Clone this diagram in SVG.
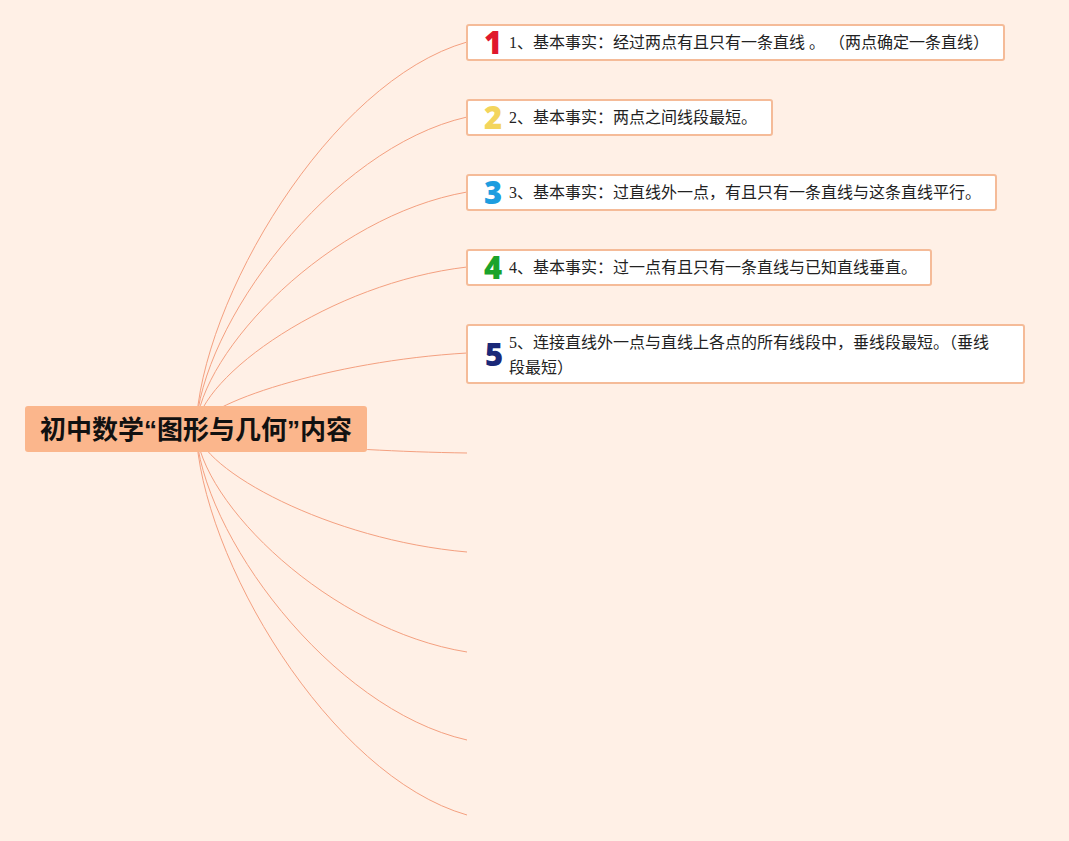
<svg xmlns="http://www.w3.org/2000/svg" width="1069" height="841" viewBox="0 0 1069 841">
<style>
.bg{fill:#fff0e6}
.link{fill:none;stroke:#f4a080;stroke-width:1}
.box{fill:#ffffff;stroke:#f5bb98;stroke-width:2}
.txt{font-family:"Liberation Serif","Noto Sans CJK SC",serif;font-size:16px;fill:#222}
.num{font-family:"Open Sans","Liberation Sans",sans-serif;font-weight:800;font-size:31px;text-anchor:middle}
.root{fill:#fbb68c}
.rtxt{font-family:"Noto Sans CJK SC",sans-serif;font-weight:bold;font-size:26px;fill:#111;text-anchor:middle}
.q{font-family:"Liberation Sans",sans-serif}
</style>
<rect class="bg" x="0" y="0" width="1069" height="841"/>
<g id="connectors">
<path class="link" d="M196 429 C200 301 330 81 467 42"/>
<path class="link" d="M196 429 C200 326 330 148 467 117"/>
<path class="link" d="M196 429 C200 351 330 216 467 192"/>
<path class="link" d="M196 429 C200 376 330 283 467 267"/>
<path class="link" d="M196 429 C200 404 330 361 467 353"/>
<path class="link" d="M196 429 C200 437 330 451 467 453"/>
<path class="link" d="M196 429 C200 470 330 540 467 552"/>
<path class="link" d="M196 429 C200 503 330 630 467 652"/>
<path class="link" d="M196 429 C200 532 330 709 467 740"/>
<path class="link" d="M196 429 C200 557 330 776 467 815"/>
</g>
<g id="root">
<rect class="root" x="25" y="406" width="342" height="46" rx="3"/>
<text class="rtxt" x="196" y="439">初中数学<tspan class="q">“</tspan>图形与几何<tspan class="q">”</tspan>内容</text>
</g>
<g id="node1">
<rect class="box" x="467" y="25" width="537" height="35" rx="2"/>
<text class="num" x="493" y="54" fill="#e0182d">1</text>
<text class="txt" x="509" y="48">1、基本事实：经过两点有且只有一条直线 。 （两点确定一条直线）</text>
</g>
<g id="node2">
<rect class="box" x="467" y="100" width="305" height="35" rx="2"/>
<text class="num" x="493" y="129" fill="#f3d55c">2</text>
<text class="txt" x="509" y="123">2、基本事实：两点之间线段最短。</text>
</g>
<g id="node3">
<rect class="box" x="467" y="175" width="529" height="35" rx="2"/>
<text class="num" x="493" y="204" fill="#1e9ddf">3</text>
<text class="txt" x="509" y="198">3、基本事实：过直线外一点，有且只有一条直线与这条直线平行。</text>
</g>
<g id="node4">
<rect class="box" x="467" y="250" width="464" height="35" rx="2"/>
<text class="num" x="493" y="279" fill="#1ba32b">4</text>
<text class="txt" x="509" y="273">4、基本事实：过一点有且只有一条直线与已知直线垂直。</text>
</g>
<g id="node5">
<rect class="box" x="467" y="325" width="557" height="58" rx="2"/>
<text class="num" x="494" y="366" fill="#1a2878">5</text>
<text class="txt" x="509" y="348">5、连接直线外一点与直线上各点的所有线段中，垂线段最短。（垂线</text>
<text class="txt" x="509" y="373">段最短）</text>
</g>
</svg>
